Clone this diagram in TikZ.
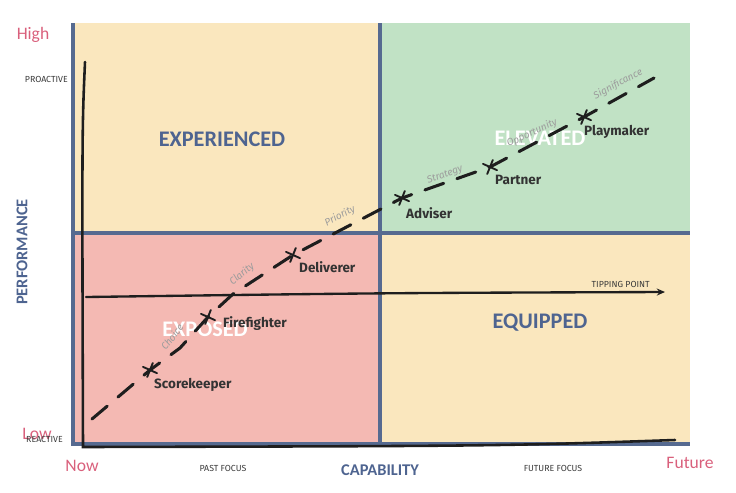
\documentclass[tikz,border=0pt]{standalone}
\usepackage{fontspec}
\setmainfont{Carlito}
\newfontfamily\rolefont{Fira Sans}
\usetikzlibrary{positioning,arrows.meta}

\definecolor{quadyellow}{HTML}{FAE7BE}
\definecolor{quadgreen}{HTML}{C1E2C5}
\definecolor{quadpink}{HTML}{F4B9B3}
\definecolor{gridblue}{HTML}{566A90}
\definecolor{titleblue}{HTML}{4E6490}
\definecolor{endpink}{HTML}{D9607C}
\definecolor{inkblack}{HTML}{1E1E1E}
\definecolor{rolegray}{HTML}{333333}
\definecolor{phasegray}{HTML}{9C9C9C}
\definecolor{taggray}{HTML}{3A3A3A}

\begin{document}
\begin{tikzpicture}[x=0.03cm,y=-0.03cm,
  quadtitle/.style={font=\bfseries\fontsize{19}{19}\selectfont},
  role/.style={font=\rolefont\bfseries\fontsize{11.5}{13}\selectfont, text=rolegray, anchor=west, inner sep=0pt},
  phase/.style={font=\rolefont\itshape\fontsize{8.5}{9}\selectfont, text=phasegray, inner sep=0pt},
  tag/.style={font=\rolefont\fontsize{7.5}{8}\selectfont, text=taggray, inner sep=0pt},
  endword/.style={font=\fontsize{15}{15}\selectfont, text=endpink, inner sep=0pt},
  axisname/.style={font=\bfseries\fontsize{14}{14}\selectfont, text=titleblue, inner sep=0pt},
  gridline/.style={line width=4pt, draw=gridblue},
  pen/.style={line width=2.2pt, draw=inkblack, line cap=round},
  pathline/.style={pen, line width=2.6pt, dash pattern=on 17pt off 12pt},
  tick/.style={pen, line width=1.6pt}]
  \def\tk{7}
  \useasboundingbox (0,0) rectangle (736,492);
  \coordinate (top left) at (73,23);
  \coordinate (centre) at (380,233);
  \coordinate (bottom right) at (690,444);

  % Quadrants
  \fill[quadyellow] (top left) rectangle (centre);
  \fill[quadgreen] (380,23) rectangle (690,233);
  \fill[quadpink] (73,233) rectangle (380,444);
  \fill[quadyellow] (centre) rectangle (bottom right);
  \draw[gridline] (top left) -- (73,444) -- (bottom right);
  \draw[gridline] (380,23) -- (380,444);
  \draw[gridline] (73,233) -- (690,233);

  % Quadrant names
  \node[quadtitle, text=titleblue] (experienced) at (222,139) {EXPERIENCED};
  \node[quadtitle, text=white] (elevated) at (540,138) {ELEVATED};
  \node[quadtitle, text=white] (exposed) at (205,329) {EXPOSED};
  \node[quadtitle, text=titleblue] (equipped) at (540,323) {EQUIPPED};

  % Hand drawn axes
  \coordinate (pen top) at (85,62);
  \coordinate (pen corner) at (83,447);
  \coordinate (pen end) at (675,440);
  \draw[pen] (pen top) .. controls (82,130) .. (pen corner)
    .. controls (500,446) .. (pen end);

  % Tipping point
  \coordinate (tip start) at (86,297);
  \coordinate (tip end) at (665,292);
  \draw[pen, line width=2pt, -{Stealth[length=7pt,width=6pt]}] (tip start) .. controls (380,293) .. (tip end);
  \node[tag, anchor=south east] (tipping) at (650,288) {TIPPING POINT};

  % Career path
  \coordinate (path start) at (92,419);
  \coordinate (score) at (150,370);
  \coordinate (bend a) at (180,348);
  \coordinate (fire) at (208,317);
  \coordinate (bend b) at (233,294);
  \coordinate (deliver) at (293,255);
  \coordinate (advise) at (402,198);
  \coordinate (partner) at (490,167);
  \coordinate (play) at (584,117);
  \coordinate (path end) at (654,78);
  \draw[pathline] (path start) -- (score) -- (bend a) -- (fire) -- (bend b)
    -- (deliver) -- (advise) -- (partner) -- (play) -- (path end);
  \foreach \p in {score,fire,deliver,advise,partner,play}
    \draw[tick] ([shift={(-\tk,-0.45*\tk)}]\p) -- ([shift={(\tk,0.45*\tk)}]\p)
      ([shift={(-0.4*\tk,\tk)}]\p) -- ([shift={(0.4*\tk,-\tk)}]\p);

  % Roles
  \node[role] (scorekeeper) at (154,385) {Scorekeeper};
  \node[role] (firefighter) at (223,324) {Firefighter};
  \node[role] (deliverer) at (299,267) {Deliverer};
  \node[role] (adviser) at (406,213) {Adviser};
  \node[role] (partner name) at (495,180) {Partner};
  \node[role] (playmaker) at (584,132) {Playmaker};

  % Steps along the path
  \node[phase, rotate=52] (choice) at (172,337) {Choice};
  \node[phase, rotate=40] (clarity) at (242,274) {Clarity};
  \node[phase, rotate=28] (priority) at (340,216) {Priority};
  \node[phase, rotate=20] (strategy) at (445,175) {Strategy};
  \node[phase, rotate=25] (opportunity) at (532,133) {Opportunity};
  \node[phase, rotate=28] (significance) at (618,84) {Significance};

  % Axis ends
  \node[endword] (high) at (33,35) {High};
  \node[endword] (low) at (37,434) {Low};
  \node[endword] (now) at (82,466) {Now};
  \node[endword] (future) at (690,463) {Future};
  \node[tag, anchor=east] (proactive) at (68,79) {PROACTIVE};
  \node[tag, anchor=east] (reactive) at (63,439) {REACTIVE};
  \node[tag] (past focus) at (223,468) {PAST FOCUS};
  \node[tag] (future focus) at (553,468) {FUTURE FOCUS};
  \node[axisname] (capability) at (380,470) {CAPABILITY};
  \node[axisname, rotate=90] (performance) at (22,252) {PERFORMANCE};
\end{tikzpicture}
\end{document}
